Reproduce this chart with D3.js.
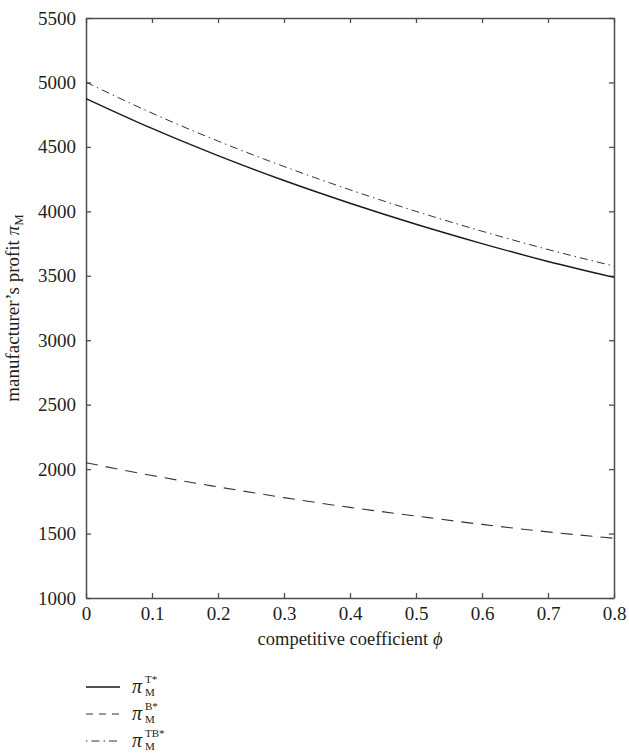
<!DOCTYPE html>
<html>
<head>
<meta charset="utf-8">
<script src="https://cdn.jsdelivr.net/npm/d3@7"></script>
<style>
  body { margin: 0; background: #fff; }
  svg { display: block; }
  text { font-family: "Liberation Serif", "Times New Roman", serif; fill: #231f20; }
</style>
</head>
<body>
<div id="chart"></div>
<script>
// values
const phi      = [0, 0.1, 0.2, 0.3, 0.4, 0.5, 0.6, 0.7, 0.8];
const profitT  = [4875, 4643, 4432, 4239, 4063, 3900, 3750, 3611, 3488];
const profitB  = [2050, 1950, 1862, 1779, 1703, 1636, 1571, 1513, 1463];
const profitTB = [5002, 4762, 4545, 4348, 4167, 4000, 3846, 3704, 3575];

const seriesNames = ["T*", "B*", "TB*"];
const xTicks = [0, 0.1, 0.2, 0.3, 0.4, 0.5, 0.6, 0.7, 0.8];
const yTicks = [1000, 1500, 2000, 2500, 3000, 3500, 4000, 4500, 5000, 5500];

const width = 629, height = 755;
const margin = {left: 86, right: 15, top: 18, bottom: 157};
const plotW = width - margin.left - margin.right;
const plotH = height - margin.top - margin.bottom;

const svg = d3.select("#chart").append("svg")
    .attr("width", width)
    .attr("height", height);

const x = d3.scaleLinear().domain([0, 0.8]).range([0, plotW]);
const y = d3.scaleLinear().domain([1000, 5500]).range([plotH, 0]);

const g = svg.append("g").attr("transform", `translate(${margin.left},${margin.top})`);

//axes, ticks pointing inwards on all four sides
const axisColor = "#4d4d4d";

g.append("g")
    .attr("transform", `translate(0,${plotH})`)
    .call(d3.axisBottom(x).tickValues(xTicks).tickFormat(d => d).tickSize(-5).tickSizeOuter(0).tickPadding(9))
    .call(a => a.selectAll("text").style("font-size", "19px"));

g.append("g")
    .call(d3.axisTop(x).tickValues(xTicks).tickFormat("").tickSize(-5).tickSizeOuter(0));

g.append("g")
    .call(d3.axisLeft(y).tickValues(yTicks).tickFormat(d => d).tickSize(-5).tickSizeOuter(0).tickPadding(10))
    .call(a => a.selectAll("text").style("font-size", "19px"));

g.append("g")
    .attr("transform", `translate(${plotW},0)`)
    .call(d3.axisRight(y).tickValues(yTicks).tickFormat("").tickSize(-5).tickSizeOuter(0));

g.selectAll(".domain").attr("stroke", axisColor).attr("stroke-width", 1.5);
g.selectAll(".tick line").attr("stroke", axisColor).attr("stroke-width", 1.3);
g.selectAll(".tick text").attr("fill", "#231f20").attr("font-family", "Liberation Serif, serif");

//curves
const series = [
    {name: seriesNames[0], values: profitT,  dash: null,        legDash: null,        color: "#1a1a1a", w: 1.4},
    {name: seriesNames[1], values: profitB,  dash: "12,8",      legDash: "7,6",       color: "#333",    w: 1.1},
    {name: seriesNames[2], values: profitTB, dash: "8,4,1.5,4", legDash: "1.5,4,8,4", color: "#333",    w: 1.0}
];

const line = d3.line()
    .x((d, i) => x(phi[i]))
    .y(d => y(d))
    .curve(d3.curveMonotoneX);

series.forEach(s => {
    g.append("path")
        .datum(s.values)
        .attr("d", line)
        .attr("fill", "none")
        .attr("stroke", s.color)
        .attr("stroke-width", s.w)
        .attr("stroke-dasharray", s.dash);
});

//axis titles
const xTitle = svg.append("text")
    .attr("x", margin.left + plotW / 2)
    .attr("y", 645)
    .attr("text-anchor", "middle")
    .style("font-size", "18.5px");
xTitle.append("tspan").text("competitive coefficient ");
xTitle.append("tspan").attr("font-style", "italic").text("ϕ");

const yTitle = svg.append("text")
    .attr("transform", `translate(19,${margin.top + plotH / 2}) rotate(-90)`)
    .attr("text-anchor", "middle")
    .style("font-size", "19px");
yTitle.append("tspan").text("manufacturer’s profit ");
yTitle.append("tspan").attr("font-style", "italic").text("π");
yTitle.append("tspan").attr("dy", 4).style("font-size", "13px").text("M");

//legend
const legend = svg.append("g");
series.forEach((s, i) => {
    let ly = 687 + i * 27;
    legend.append("line")
        .attr("x1", 86).attr("x2", 120)
        .attr("y1", ly).attr("y2", ly)
        .attr("stroke", s.color)
        .attr("stroke-width", s.w)
        .attr("stroke-dasharray", s.legDash);
    legend.append("text")
        .attr("x", 132).attr("y", ly + 6)
        .attr("font-style", "italic")
        .style("font-size", "20px")
        .text("π");
    legend.append("text")
        .attr("x", 145).attr("y", ly + 9)
        .style("font-size", "11px")
        .text("M");
    legend.append("text")
        .attr("x", 145).attr("y", ly - 4)
        .style("font-size", "11px")
        .text(s.name);
});
</script>
</body>
</html>
